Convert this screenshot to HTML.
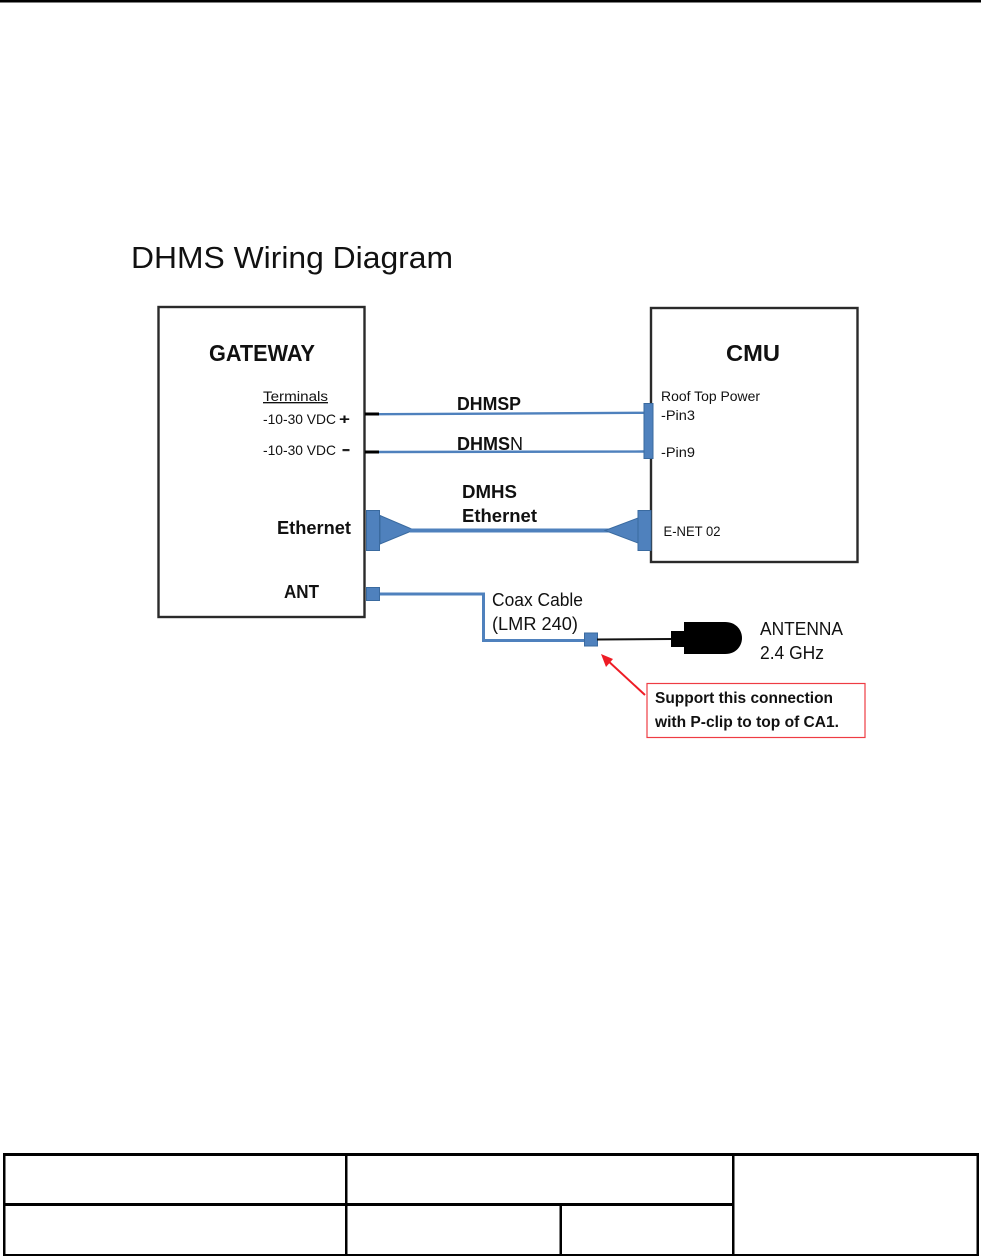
<!DOCTYPE html>
<html><head><meta charset="utf-8"><style>
html,body{margin:0;padding:0;background:#fff}
svg{display:block}
text{font-family:"Liberation Sans",sans-serif;fill:#111}
.b{font-weight:bold}
</style></head><body>
<svg width="981" height="1256" viewBox="0 0 981 1256" xmlns="http://www.w3.org/2000/svg">
<rect x="0" y="0" width="981" height="2.5" fill="#000"/>
<text x="131" y="268" font-size="31" textLength="322" lengthAdjust="spacingAndGlyphs" fill="#222">DHMS Wiring Diagram</text>

<rect x="158.5" y="307" width="206" height="310" fill="#fff" stroke="#2a2a2a" stroke-width="2.4"/>
<rect x="651" y="308" width="206.5" height="254" fill="#fff" stroke="#2a2a2a" stroke-width="2.4"/>

<text class="b" x="209" y="361" font-size="23" textLength="106" lengthAdjust="spacingAndGlyphs">GATEWAY</text>
<text class="b" x="726" y="361" font-size="23" textLength="54" lengthAdjust="spacingAndGlyphs">CMU</text>
<text x="263" y="401" font-size="13.5" textLength="65" lengthAdjust="spacingAndGlyphs" text-decoration="underline" fill="#333">Terminals</text>
<text x="263" y="424" font-size="14" textLength="73" lengthAdjust="spacingAndGlyphs" fill="#333">-10-30 VDC</text>
<text class="b" x="339" y="424" font-size="15" textLength="11" lengthAdjust="spacingAndGlyphs">+</text>
<text x="263" y="455" font-size="14" textLength="73" lengthAdjust="spacingAndGlyphs" fill="#333">-10-30 VDC</text>
<rect x="342.5" y="449" width="7" height="2.2" fill="#222"/>
<text class="b" x="277" y="534" font-size="18" textLength="74" lengthAdjust="spacingAndGlyphs">Ethernet</text>
<text class="b" x="284" y="598" font-size="18" textLength="35" lengthAdjust="spacingAndGlyphs">ANT</text>

<text x="661" y="401" font-size="14" textLength="99" lengthAdjust="spacingAndGlyphs" fill="#333">Roof Top Power</text>
<text x="661" y="420" font-size="14" textLength="34" lengthAdjust="spacingAndGlyphs" fill="#333">-Pin3</text>
<text x="661" y="457" font-size="14" textLength="34" lengthAdjust="spacingAndGlyphs" fill="#333">-Pin9</text>
<text x="663.5" y="536" font-size="14" textLength="57" lengthAdjust="spacingAndGlyphs" fill="#333">E-NET 02</text>

<!-- power wires -->
<rect x="365" y="412.5" width="14" height="3" fill="#000"/>
<rect x="365" y="450.5" width="14" height="3" fill="#000"/>
<path d="M379 414.2 L644 412.8" stroke="#4f81bd" stroke-width="2.4" fill="none"/>
<path d="M379 452 L644 451.5" stroke="#4f81bd" stroke-width="2.4" fill="none"/>
<rect x="644" y="403.5" width="9" height="55" fill="#4f81bd" stroke="#3a6a9f" stroke-width="1"/>

<text class="b" x="457" y="410" font-size="18" textLength="64" lengthAdjust="spacingAndGlyphs">DHMSP</text>
<text x="457" y="450" font-size="18" textLength="66" lengthAdjust="spacingAndGlyphs"><tspan class="b">DHMS</tspan>N</text>
<text class="b" x="462" y="498" font-size="18" textLength="55" lengthAdjust="spacingAndGlyphs">DMHS</text>
<text class="b" x="462" y="522" font-size="18" textLength="75" lengthAdjust="spacingAndGlyphs">Ethernet</text>

<!-- ethernet -->
<rect x="366.5" y="510.5" width="13" height="40" fill="#4f81bd" stroke="#3a6a9f" stroke-width="1"/>
<polygon points="380,515.5 414,530 380,544" fill="#4f81bd" stroke="#3a6a9f" stroke-width="1"/>
<rect x="410" y="528.5" width="200" height="4" fill="#4f81bd"/>
<polygon points="605,530.5 638,518 638,543" fill="#4f81bd" stroke="#3a6a9f" stroke-width="1"/>
<rect x="638" y="510.5" width="13" height="40" fill="#4f81bd" stroke="#3a6a9f" stroke-width="1"/>

<!-- coax -->
<rect x="366.5" y="587.5" width="13" height="13" fill="#4f81bd" stroke="#3a6a9f" stroke-width="1"/>
<path d="M380 594 H483.5 V640.5 H585" stroke="#4f81bd" stroke-width="3" fill="none"/>
<rect x="584.5" y="633" width="13" height="13" fill="#4f81bd" stroke="#3a6a9f" stroke-width="1"/>
<text x="492" y="606" font-size="18" textLength="91" lengthAdjust="spacingAndGlyphs" fill="#333">Coax Cable</text>
<text x="492" y="630" font-size="18" textLength="86" lengthAdjust="spacingAndGlyphs" fill="#333">(LMR 240)</text>

<!-- antenna -->
<path d="M597 639.5 L672 639" stroke="#111" stroke-width="2" fill="none"/>
<rect x="671" y="631" width="14" height="16" fill="#000"/>
<path d="M684 622 H725 C737 622 742 631 742 638 C742 645 737 654 725 654 H684 Z" fill="#000"/>
<text x="760" y="635" font-size="18" textLength="83" lengthAdjust="spacingAndGlyphs" fill="#333">ANTENNA</text>
<text x="760" y="659" font-size="18" textLength="64" lengthAdjust="spacingAndGlyphs" fill="#333">2.4 GHz</text>

<!-- callout -->
<path d="M645 695 L606 659" stroke="#ee1c25" stroke-width="2" fill="none"/>
<polygon points="601,654 613,659 606,667" fill="#ee1c25"/>
<rect x="647" y="683.5" width="218" height="54" fill="#fff" stroke="#ee3c44" stroke-width="1.2"/>
<text class="b" x="655" y="703" font-size="15.5" textLength="178" lengthAdjust="spacingAndGlyphs" fill="#222">Support this connection</text>
<text class="b" x="655" y="727" font-size="15.5" textLength="184" lengthAdjust="spacingAndGlyphs" fill="#222">with P-clip to top of CA1.</text>

<!-- table -->
<g fill="#000">
<rect x="3" y="1153" width="976" height="3"/>
<rect x="3" y="1203" width="731" height="3"/>
<rect x="3" y="1254" width="976" height="2"/>
<rect x="3" y="1153" width="2.5" height="103"/>
<rect x="976.5" y="1153" width="2.5" height="103"/>
<rect x="345" y="1153" width="2.5" height="103"/>
<rect x="732" y="1153" width="2.5" height="103"/>
<rect x="559.5" y="1205" width="2.5" height="51"/>
</g>
</svg>
</body></html>
